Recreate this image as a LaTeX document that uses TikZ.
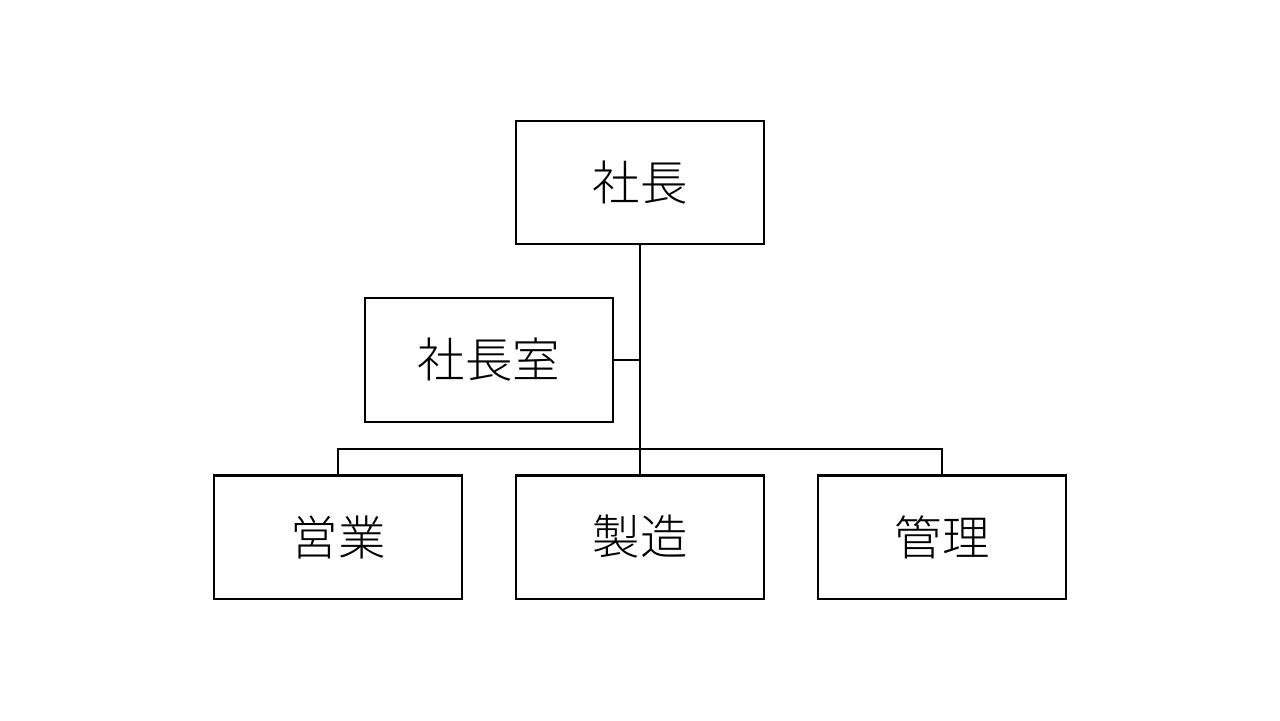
\documentclass[tikz,border=0pt]{standalone}
\usepackage{fontspec}
\newfontfamily\cjk{Noto Sans CJK JP}[UprightFont=* Light]
\begin{document}
\begin{tikzpicture}[x=0.02cm,y=-0.02cm,
  box/.style={draw=black,line width=1.4pt,minimum width=4.97cm,minimum height=2.47cm,inner sep=0pt,outer sep=0pt,font=\cjk\fontsize{27}{32}\selectfont},
  conn/.style={draw=black,line width=1.4pt}]
\useasboundingbox[fill=white] (0,0) rectangle (1280,720);
\node[box] (ceo) at (640,182.5) {社長};
\node[box] (office) at (489,360) {社長室};
\node[box] (sales) at (338,537) {営業};
\node[box] (mfg) at (640,537) {製造};
\node[box] (adm) at (942,537) {管理};
\coordinate (j) at (640,449);
\coordinate (jo) at (640,360);
\draw[conn] (ceo.south) -- (mfg.north);
\draw[conn] (office.east) -- (jo);
\draw[conn] (sales.north) |- (j) -| (adm.north);
\end{tikzpicture}
\end{document}
